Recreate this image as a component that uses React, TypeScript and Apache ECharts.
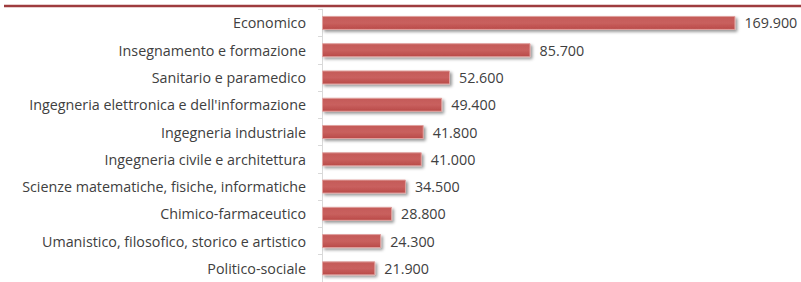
import React, { useEffect, useRef } from "react";
import * as echarts from "echarts";

const categories = [
  "Economico",
  "Insegnamento e formazione",
  "Sanitario e paramedico",
  "Ingegneria elettronica e dell'informazione",
  "Ingegneria industriale",
  "Ingegneria civile e architettura",
  "Scienze matematiche, fisiche, informatiche",
  "Chimico-farmaceutico",
  "Umanistico, filosofico, storico e artistico",
  "Politico-sociale",
];
const values = [169.9, 85.7, 52.6, 49.4, 41.8, 41.0, 34.5, 28.8, 24.3, 21.9];

const fmt = (v: number) => v.toFixed(3);

export default function App() {
  const ref = useRef<HTMLDivElement>(null);
  useEffect(() => {
    if (!ref.current) return;
    const chart = echarts.init(ref.current, null, { renderer: "svg" });
    chart.setOption({
      animation: false,
      backgroundColor: "#ffffff",
      textStyle: { fontFamily: "Open Sans" },
      graphic: [
        {
          type: "line",
          shape: { x1: 4, y1: 6, x2: 801, y2: 6 },
          style: { stroke: "#9e3c3e", lineWidth: 2.5 },
        },
      ],
      grid: { left: 322, right: 41, top: 9.3, bottom: -0.6, containLabel: false },
      xAxis: {
        type: "value",
        min: 0,
        max: 180,
        show: false,
      },
      yAxis: {
        type: "category",
        data: categories,
        inverse: true,
        axisLine: { show: true, lineStyle: { color: "#d9d9d9", width: 1 } },
        axisTick: { show: true, length: 4, lineStyle: { color: "#d9d9d9" } },
        axisLabel: {
          color: "#404040",
          fontSize: 14.3,
          margin: 16,
          fontFamily: "Open Sans",
        },
      },
      series: [
        {
          type: "bar",
          data: values,
          barWidth: 14,
          itemStyle: {
            color: new echarts.graphic.LinearGradient(0, 0, 0, 1, [
              { offset: 0, color: "#c45a58" },
              { offset: 0.5, color: "#c9605e" },
              { offset: 1, color: "#b94a48" },
            ]),
            borderColor: "#e0a09e",
            borderWidth: 1,
            shadowColor: "rgba(0,0,0,0.4)",
            shadowBlur: 3,
            shadowOffsetX: 2,
            shadowOffsetY: 2,
          },
          label: {
            show: true,
            position: "right",
            distance: 9,
            color: "#404040",
            fontSize: 14.3,
            fontFamily: "Open Sans",
            formatter: (p: any) => fmt(p.value),
          },
        },
      ],
    });
    return () => chart.dispose();
  }, []);
  return (
    <div
      ref={ref}
      style={{ position: "fixed", left: 0, top: 0, width: 801, height: 282 }}
    />
  );
}
